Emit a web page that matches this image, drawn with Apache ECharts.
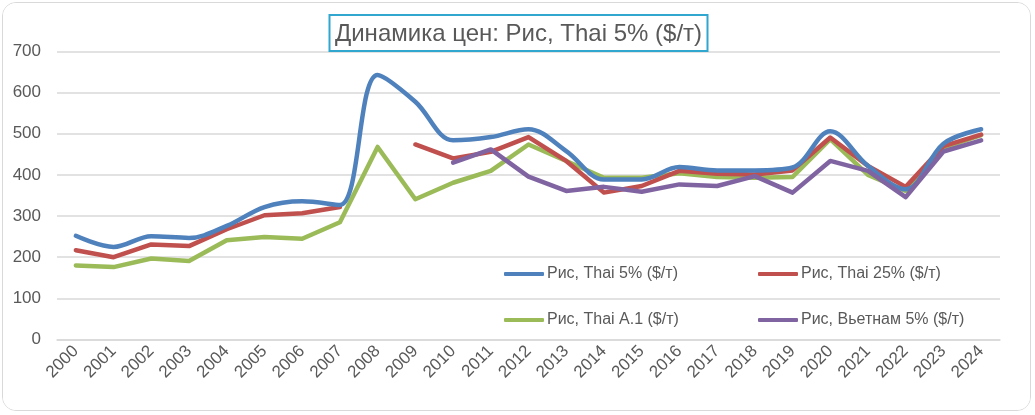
<!DOCTYPE html>
<html>
<head>
<meta charset="utf-8">
<script src="https://cdn.jsdelivr.net/npm/echarts@6/dist/echarts.min.js"></script>
<style>
  html, body { margin: 0; padding: 0; background: #fff; }
  #frame { position: absolute; left: 2px; top: 2px; width: 1027px; height: 407px;
           border: 1.5px solid #d9d9d9; border-radius: 14px; overflow: hidden; }
  #chart { width: 1035px; height: 415px; position: absolute; left: -2px; top: -2px; }
</style>
</head>
<body>
<div id="frame"><div id="chart"></div></div>
<script>
var years = ['2000','2001','2002','2003','2004','2005','2006','2007','2008','2009','2010','2011','2012',
             '2013','2014','2015','2016','2017','2018','2019','2020','2021','2022','2023','2024'];
// Рис, Thai 5%
var thai5 = [252, 225, 251, 247, 276, 322, 336, 327, 643, 578, 484, 492, 511, 458, 389, 389, 419, 411, 411, 418, 506, 422, 365, 476, 511];
// Рис, Thai 25% (2008 нет данных)
var thai25 = [217, 200, 231, 227, 268, 302, 307, 322, null, 474, 440, 456, 492, 434, 357, 373, 410, 403, 401, 411, 491, 422, 371, 470, 498];
// Рис, Thai A.1
var thaiA1 = [180, 176, 197, 191, 241, 249, 245, 285, 468, 341, 381, 410, 474, 434, 393, 393, 404, 395, 393, 395, 487, 400, 361, 466, 497];
// Рис, Вьетнам 5%
var viet5 = [null, null, null, null, null, null, null, null, null, null, 430, 462, 396, 361, 371, 359, 377, 373, 397, 357, 434, 410, 346, 457, 484];
var yTicks = [0, 100, 200, 300, 400, 500, 600, 700];

var names = ['Рис, Thai 5% ($/т)', 'Рис, Thai 25% ($/т)', 'Рис, Thai A.1 ($/т)', 'Рис, Вьетнам 5% ($/т)'];
var colors = ['#4f81bd', '#c0504d', '#9bbb59', '#8064a2'];
var FONT = "'Liberation Sans Narrow', 'Arial Narrow', 'Liberation Sans', sans-serif";

function legendItem(name, left, top) {
    return {
        data: [name], left: left, top: top,
        icon: 'roundRect', itemWidth: 40, itemHeight: 4, itemGap: 0,
        padding: 0,
        textStyle: { fontFamily: FONT, fontSize: 16, color: '#595959', padding: [0, 0, 0, -2] },
        selectedMode: false
    };
}

var option = {
    backgroundColor: '#fff',
    color: colors,
    animation: false,
    title: {
        text: 'Динамика цен: Рис, Thai 5% ($/т)',
        left: 'center', top: 14,
        borderColor: '#31a6cf', borderWidth: 2,
        padding: [7, 6, 5, 6],
        textStyle: { fontFamily: FONT, fontSize: 24, fontWeight: 'normal', color: '#595959' }
    },
    legend: [
        legendItem(names[0], 503, 265),
        legendItem(names[1], 757, 265),
        legendItem(names[2], 503, 311),
        legendItem(names[3], 757, 311)
    ],
    grid: { left: 56, right: 36, top: 50.5, bottom: 76.5 },
    xAxis: {
        type: 'category',
        data: years,
        boundaryGap: true,
        axisLine: { show: true, lineStyle: { color: '#d9d9d9', width: 1.5 } },
        axisTick: { show: false },
        axisLabel: { rotate: 45, fontFamily: FONT, fontSize: 17, color: '#595959', margin: 9, interval: 0 }
    },
    yAxis: {
        type: 'value',
        min: yTicks[0], max: yTicks[yTicks.length - 1], interval: 100,
        axisLine: { show: false },
        axisTick: { show: false },
        splitLine: { lineStyle: { color: '#d9d9d9', width: 1.5 } },
        axisLabel: { fontFamily: FONT, fontSize: 17, color: '#595959', margin: 16 }
    },
    series: [
        { name: names[0], type: 'line', data: thai5, smooth: 0.35, symbol: 'none',
          lineStyle: { width: 4.5, cap: 'round', join: 'round' }, z: 4 },
        { name: names[1], type: 'line', data: thai25, symbol: 'none', connectNulls: false,
          lineStyle: { width: 4.5, cap: 'round', join: 'round' }, z: 3 },
        { name: names[2], type: 'line', data: thaiA1, symbol: 'none',
          lineStyle: { width: 4.5, cap: 'round', join: 'round' }, z: 2 },
        { name: names[3], type: 'line', data: viet5, symbol: 'none',
          lineStyle: { width: 4.5, cap: 'round', join: 'round' }, z: 5 }
    ]
};

var myChart = echarts.init(document.getElementById('chart'));
myChart.setOption(option);
</script>
</body>
</html>
